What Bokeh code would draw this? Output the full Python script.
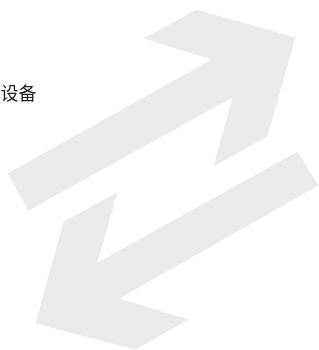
from bokeh.plotting import figure
from bokeh.models import Range1d
from bokeh.core.properties import value
from bokeh.embed import file_html
from bokeh.resources import INLINE

# Shape data (outline vertices of the two arrows, in picture units)
up_arrow_x = [295, 196, 143, 211, 7, 28, 232, 213, 267]
up_arrow_y = [37, 9, 38, 59, 173, 210, 97, 166, 136]
down_arrow_x = [297, 318, 119, 188, 135, 35, 63, 117, 97]
down_arrow_y = [151, 185, 298, 319, 349, 323, 221, 192, 262]
label_text = ["设备"]
label_x = [0]
label_y = [91]

p = figure(width=319, height=350, output_backend="svg", toolbar_location=None,
           x_range=Range1d(0, 319), y_range=Range1d(350, 0),
           min_border=0, outline_line_color=None)
p.styles = {"position": "fixed", "left": "0px", "top": "0px"}
p.axis.visible = False
p.grid.visible = False
p.background_fill_color = "white"
p.border_fill_color = "white"

p.patch(up_arrow_x, up_arrow_y, fill_color="#ebebeb", line_color=None)
p.patch(down_arrow_x, down_arrow_y, fill_color="#ebebeb", line_color=None)
p.text(x=label_x, y=label_y, text=label_text, text_font=value("Noto Sans CJK SC"),
       text_font_size="18px", text_color="#222222", text_baseline="middle", text_align="left")

open("out.html", "w").write(file_html(p, INLINE))
